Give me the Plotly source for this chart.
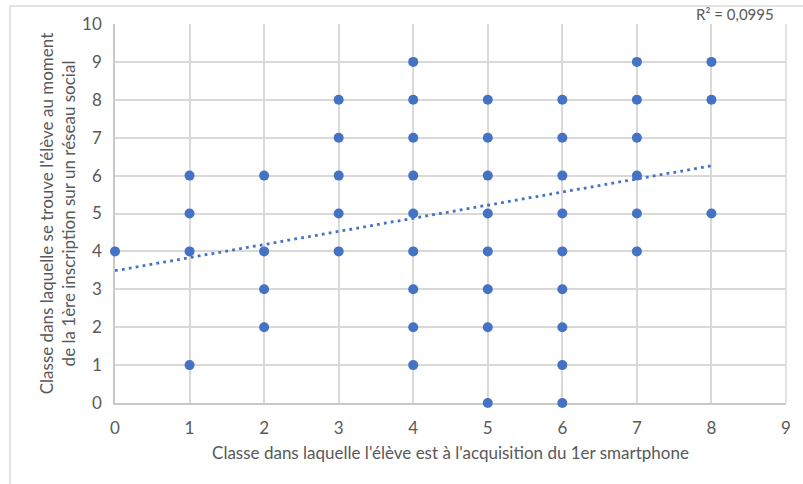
import plotly.graph_objects as go

# Data (x: class at 1st smartphone, y: class at 1st social network signup)
x_vals = [0,
          1, 1, 1, 1,
          2, 2, 2, 2,
          3, 3, 3, 3, 3,
          4, 4, 4, 4, 4, 4, 4, 4, 4,
          5, 5, 5, 5, 5, 5, 5, 5,
          6, 6, 6, 6, 6, 6, 6, 6, 6,
          7, 7, 7, 7, 7, 7,
          8, 8, 8]
y_vals = [4,
          1, 4, 5, 6,
          2, 3, 4, 6,
          4, 5, 6, 7, 8,
          1, 2, 3, 4, 5, 6, 7, 8, 9,
          0, 2, 3, 4, 5, 6, 7, 8,
          0, 1, 2, 3, 4, 5, 6, 7, 8,
          4, 5, 6, 7, 8, 9,
          5, 8, 9]

trend_intercept = 3.49
trend_slope = 0.346
trend_x = [0, 8]
trend_y = [trend_intercept + trend_slope * v for v in trend_x]
r2_label = "R² = 0,0995"

x_title = "Classe dans laquelle l'élève est à l'acquisition du 1er smartphone"
y_title = "Classe dans laquelle se trouve l'élève au moment<br>de la 1ère inscription sur un réseau social"

blue = "#4472C4"
grid = "#D9D9D9"
txt = "#595959"
font_family = "Lato, 'Open Sans', sans-serif"
fs = 17

W, H = 803, 484
L, R, T, B = 115, 17, 24, 81
pw, ph = W - L - R, H - T - B

fig = go.Figure()
fig.add_trace(go.Scatter(x=trend_x, y=trend_y, mode="lines",
                         line=dict(color=blue, width=2.8, dash="2.8px,4.2px"),
                         hoverinfo="skip", showlegend=False))
fig.add_trace(go.Scatter(x=x_vals, y=y_vals, mode="markers",
                         marker=dict(color=blue, size=10),
                         showlegend=False, cliponaxis=False))

fig.update_layout(
    width=W, height=H,
    margin=dict(l=L, r=R, t=T, b=B),
    paper_bgcolor="white", plot_bgcolor="white",
    font=dict(family=font_family, color=txt, size=fs),
    xaxis=dict(range=[0, 9], dtick=1, showgrid=True, gridcolor=grid, gridwidth=1.5,
               zeroline=False, showline=True, linecolor="#C8C8C8", linewidth=1.5,
               layer="below traces",
               ticks="", ticklabelstandoff=9, tickfont=dict(size=fs, color=txt),
               title=dict(text=x_title, font=dict(size=fs, color=txt), standoff=10)),
    yaxis=dict(range=[0, 10], dtick=1, showgrid=True, gridcolor=grid, gridwidth=1.5,
               zeroline=False, showline=True, linecolor="#C8C8C8", linewidth=1.5,
               layer="below traces",
               ticks="", ticklabelstandoff=8, tickfont=dict(size=fs, color=txt),
               title=dict(text=y_title, font=dict(size=fs, color=txt), standoff=2)),
    shapes=[
        dict(type="line", xref="paper", yref="paper", x0=1, x1=1, y0=0, y1=1,
             line=dict(color=grid, width=1.5), layer="below"),
        dict(type="rect", xref="paper", yref="paper",
             x0=(10 - L) / pw, x1=(808 - L) / pw,
             y0=(H - B - 490) / ph, y1=(H - B - 6) / ph,
             line=dict(color="#D9D9D9", width=1.5), fillcolor="rgba(0,0,0,0)", layer="below"),
    ],
    annotations=[
        dict(text=r2_label, xref="paper", yref="paper",
             x=(776 - L) / pw, y=(H - B - 14) / ph, xanchor="right", yanchor="middle",
             showarrow=False, font=dict(size=15, color=txt)),
    ],
)

fig.write_html("out.html", config={"displayModeBar": False},
               post_script="document.body.style.margin='0';document.body.style.overflow='hidden';")
